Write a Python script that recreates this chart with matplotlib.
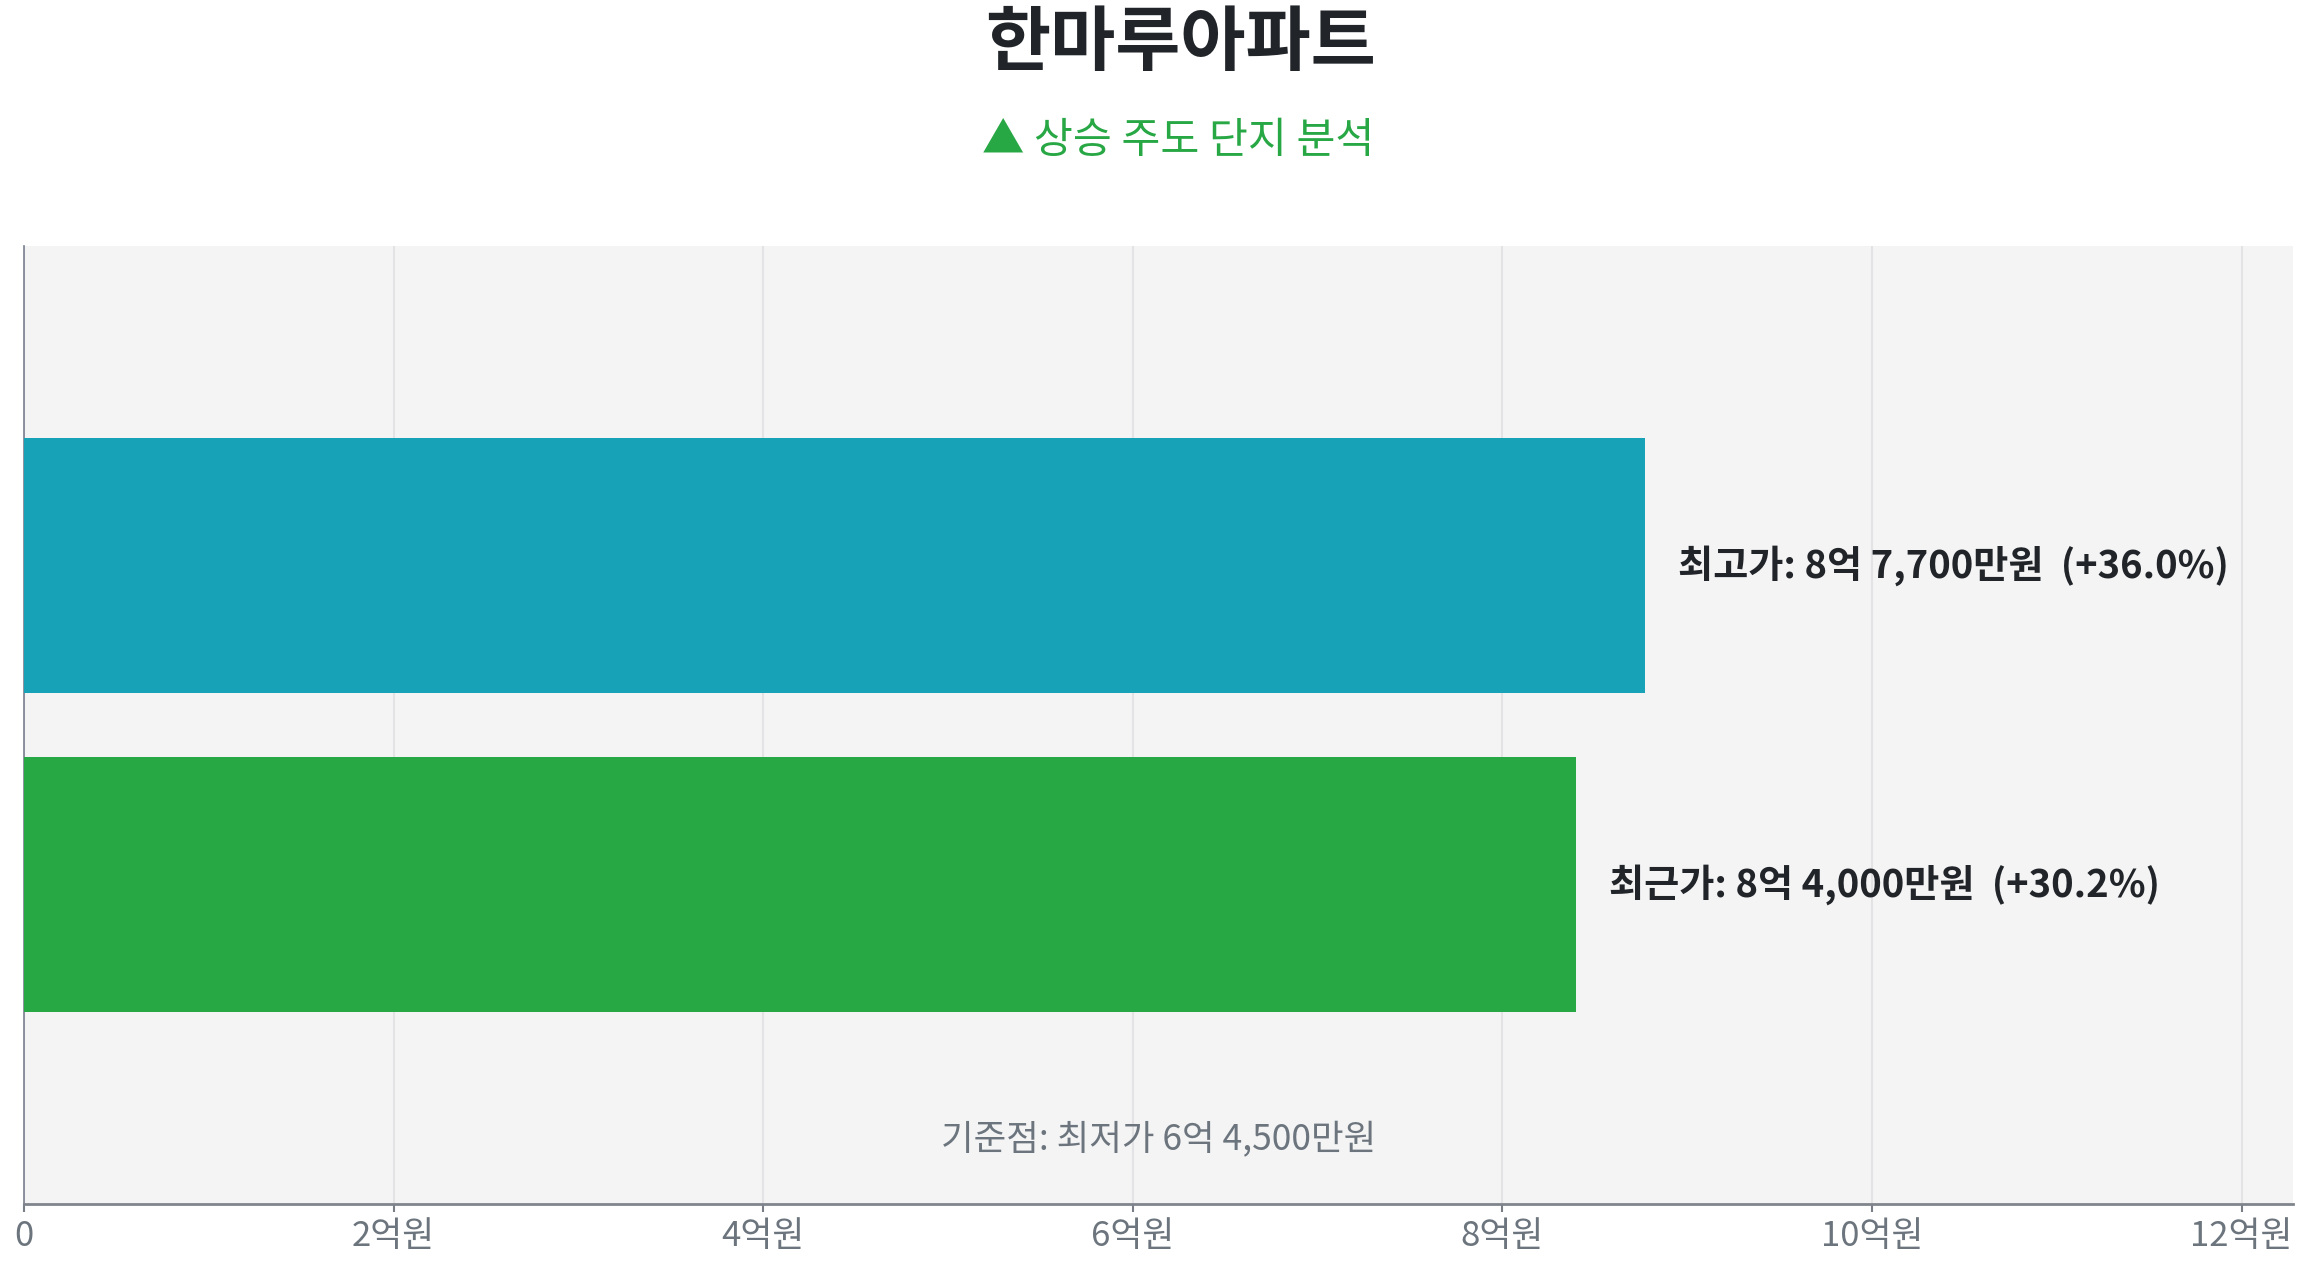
import matplotlib
matplotlib.use("Agg")
import matplotlib.pyplot as plt
from matplotlib.ticker import FixedLocator, FuncFormatter

plt.rcParams['font.family'] = ['Noto Sans CJK KR', 'DejaVu Sans']

# ---- data ----
title = "한마루아파트"
subtitle = "▲ 상승 주도 단지 분석"
categories = ["최고가", "최근가"]
values_manwon = [87700, 84000]          # 만원
base_label = "최저가"
base_manwon = 64500                      # 만원
bar_colors = ["#17a2b8", "#28a745"]
xticks_eok = [0, 2, 4, 6, 8, 10, 12]


def fmt_price(v):
    eok = v // 10000
    man = v % 10000
    if man:
        return f"{eok}억 {man:,}만원"
    return f"{eok}억원"


W, H, DPI = 2308, 1268, 100
fig = plt.figure(figsize=(W / DPI, H / DPI), dpi=DPI)
fig.patch.set_facecolor("white")

left, right, top, bottom = 24, 2293, 246, 1204
ax = fig.add_axes([left / W, 1 - bottom / H, (right - left) / W, (bottom - top) / H])
ax.set_facecolor("#f4f4f5")

vals_eok = [v / 10000 for v in values_manwon]
ypos = list(range(len(categories)))
ax.barh(ypos, vals_eok, height=0.8, color=bar_colors, zorder=3)

xmax = max(vals_eok) * 1.4
ax.set_xlim(0, xmax)
ax.set_ylim(len(categories), -1)

for y, v, vm in zip(ypos, vals_eok, values_manwon):
    pct = (vm - base_manwon) / base_manwon * 100
    ax.annotate(f"{categories[y]}: {fmt_price(vm)}  (+{pct:.1f}%)",
                xy=(v, y), xytext=(33, 0), textcoords="offset pixels",
                ha="left", va="center", fontsize=27.5, fontweight="bold",
                color="#212529", zorder=4)

ax.text(0.5, 0.067, f"기준점: {base_label} {fmt_price(base_manwon)}",
        transform=ax.transAxes, ha="center", va="center",
        fontsize=25.5, color="#6c757d")

ax.xaxis.set_major_locator(FixedLocator(xticks_eok))
ax.xaxis.set_major_formatter(FuncFormatter(lambda x, p: "0" if x == 0 else f"{int(x)}억원"))
ax.tick_params(axis="x", colors="#7a7f87", labelcolor="#6c757d", labelsize=25,
               length=6, width=1.5, pad=5)
ax.set_yticks([])
ax.grid(axis="x", color="#e3e3e6", linewidth=1.5, zorder=0)
ax.grid(axis="y", visible=False)

for s in ["top", "right"]:
    ax.spines[s].set_visible(False)
ax.spines["left"].set_color("#7a7f8f")
ax.spines["left"].set_linewidth(1.2)
ax.spines["bottom"].set_color("#80848c")
ax.spines["bottom"].set_linewidth(2)

fig.text(1180 / W, 1 - 44 / H, title, ha="center", va="center",
         fontsize=51, fontweight="bold", color="#212529")
fig.text(1178 / W, 1 - 141 / H, subtitle, ha="center", va="center",
         fontsize=30.5, color="#28a745")

fig.savefig("out.png", dpi=DPI, facecolor="white")
